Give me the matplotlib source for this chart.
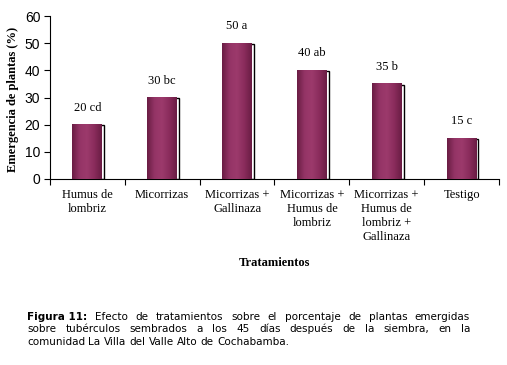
import numpy as np
import matplotlib
matplotlib.use("Agg")
import matplotlib.pyplot as plt
from matplotlib.colors import LinearSegmentedColormap

categories = ["Humus de\nlombriz", "Micorrizas", "Micorrizas +\nGallinaza",
              "Micorrizas +\nHumus de\nlombriz", "Micorrizas +\nHumus de\nlombriz +\nGallinaza",
              "Testigo"]
values = [20, 30, 50, 40, 35, 15]
labels = ["20 cd", "30 bc", "50 a", "40 ab", "35 b", "15 c"]
yticks = [0, 10, 20, 30, 40, 50, 60]

caption_bold = "Figura 11:"
caption_lines = [
    "Efecto de tratamientos sobre el porcentaje de plantas emergidas",
    "sobre tubérculos sembrados a los 45 días después de la siembra, en la",
    "comunidad La Villa del Valle Alto de Cochabamba.",
]

W, H = 507, 365
fig = plt.figure(figsize=(W / 100, H / 100), dpi=100)
ax = fig.add_axes([50 / W, 1 - 179 / H, (499 - 50) / W, (179 - 16) / H])

serif = "Liberation Serif"
sans = "Liberation Sans"
fs = 9

x = np.arange(len(categories))
width = 0.4
cmap = LinearSegmentedColormap.from_list("g", ["#6a1d44", "#943466", "#9c3a6c", "#8a2c5c", "#6a1d44"])
grad = np.linspace(0, 1, 64).reshape(1, -1)

# shadow/outline boxes
ax.bar(x + 0.025, np.array(values) - 0.3, width=width, color="white", edgecolor="black",
       linewidth=1.0, zorder=2)
bars = ax.bar(x, values, width=width, color="none", edgecolor="none", zorder=3)
for b in bars:
    x0, y0 = b.get_x(), b.get_y()
    ax.imshow(grad, extent=[x0, x0 + b.get_width(), y0, y0 + b.get_height()],
              aspect="auto", cmap=cmap, zorder=3, interpolation="bilinear")

for xi, v, lab in zip(x, values, labels):
    ax.text(xi, v + 4, lab, ha="center", va="bottom", fontsize=fs, family=serif)

ax.set_xlim(-0.5, len(categories) - 0.5)
ax.set_ylim(0, 60)
ax.set_yticks(yticks)
ax.set_yticklabels([str(t) for t in yticks], family=sans, fontsize=10)
ax.set_xticks(np.arange(len(categories) + 1) - 0.5)
ax.set_xticklabels([])
ax.tick_params(axis="x", direction="out", length=4, width=0.8)
ax.tick_params(axis="y", direction="out", length=4, width=0.8, pad=3)
for xi, c in zip(x, categories):
    ax.text(xi, -3.8, c, ha="center", va="top", fontsize=fs, family=serif,
            linespacing=1.2, transform=ax.transData)
ax.spines["top"].set_visible(False)
ax.spines["right"].set_visible(False)
ax.spines["left"].set_linewidth(0.8)
ax.spines["bottom"].set_linewidth(0.8)

fig.text(13 / W, 1 - 99 / H, "Emergencia de plantas (%)", rotation=90, ha="center", va="center",
         fontsize=fs, family=serif, fontweight="bold")
fig.text(274 / W, 1 - 263 / H, "Tratamientos", ha="center", va="center",
         fontsize=fs, family=serif, fontweight="bold")

# caption, justified
cap_fs = 7.5
left_px, right_px = 27, 470
line_y = [317, 329, 342]
fig.canvas.draw()
renderer = fig.canvas.get_renderer()

def wpx(s, bold=False):
    t = fig.text(0, 0, s, fontsize=cap_fs, family="DejaVu Sans",
                 fontweight="bold" if bold else "normal")
    w = t.get_window_extent(renderer).width
    t.remove()
    return w

for i, line in enumerate(caption_lines):
    words = line.split(" ")
    items = [(w, False) for w in words]
    if i == 0:
        items = [(caption_bold, True)] + items
    widths = [wpx(w, b) for w, b in items]
    if i < len(caption_lines) - 1:
        gap = (right_px - left_px - sum(widths)) / (len(items) - 1)
    else:
        gap = wpx(" ") * 1.0
    xpos = left_px
    for (w, b), ww in zip(items, widths):
        fig.text(xpos / W, 1 - line_y[i] / H, w, fontsize=cap_fs, family="DejaVu Sans",
                 fontweight="bold" if b else "normal", va="center", ha="left")
        xpos += ww + gap

fig.savefig("out.png", dpi=100)
